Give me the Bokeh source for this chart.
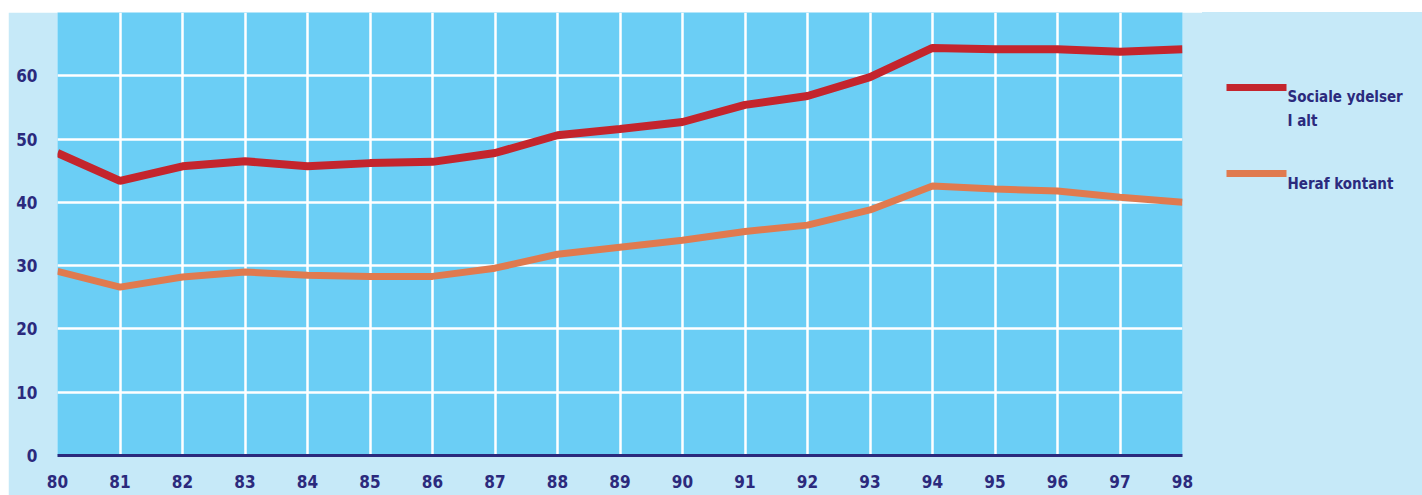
from bokeh.plotting import figure
from bokeh.models import Range1d, FixedTicker
from bokeh.layouts import row
from bokeh.core.properties import value
from bokeh.embed import file_html
from bokeh.resources import INLINE

# ---- data ----
years = [80, 81, 82, 83, 84, 85, 86, 87, 88, 89, 90, 91, 92, 93, 94, 95, 96, 97, 98]
sociale_i_alt = [47.8, 43.4, 45.7, 46.5, 45.7, 46.2, 46.4, 47.8, 50.6, 51.6, 52.7,
                 55.4, 56.8, 59.8, 64.4, 64.2, 64.2, 63.8, 64.2]
heraf_kontant = [29.1, 26.6, 28.2, 29.0, 28.5, 28.3, 28.3, 29.6, 31.8, 32.9, 34.0,
                 35.4, 36.4, 38.8, 42.6, 42.1, 41.8, 40.8, 40.0]
y_ticks = [0, 10, 20, 30, 40, 50, 60]
series_labels = [["Sociale ydelser", "I alt"], ["Heraf kontant"]]

# ---- styles ----
OUTER = "#c6e9f8"
PLOT_BG = "#6bcef5"
NAVY = "#2b2a7d"
RED = "#c4252d"
ORANGE = "#e07a4f"
FONT = "DejaVu Sans Condensed"

p = figure(width=1194, height=483, output_backend="svg", toolbar_location=None,
           x_range=Range1d(80, 98), y_range=Range1d(0, 70),
           min_border_left=49, min_border_right=20, min_border_top=0, min_border_bottom=40)
p.margin = (12, 0, 0, 8)
p.background_fill_color = PLOT_BG
p.border_fill_color = OUTER
p.outline_line_color = None

p.line(years, sociale_i_alt, line_color=RED, line_width=8)
p.line(years, heraf_kontant, line_color=ORANGE, line_width=7)

# axes
p.xaxis.ticker = FixedTicker(ticks=years)
p.xaxis.axis_line_color = NAVY
p.xaxis.axis_line_width = 3
p.xaxis.major_tick_line_color = None
p.xaxis.minor_tick_line_color = None
p.xaxis.major_label_standoff = 13
p.yaxis.ticker = FixedTicker(ticks=y_ticks)
p.yaxis.axis_line_color = None
p.yaxis.major_tick_line_color = None
p.yaxis.minor_tick_line_color = None
p.yaxis.major_label_standoff = 14
for ax in (p.xaxis, p.yaxis):
    ax.major_label_text_font = FONT
    ax.major_label_text_font_style = "bold"
    ax.major_label_text_font_size = "17px"
    ax.major_label_text_color = NAVY

# grids
p.xgrid.ticker = FixedTicker(ticks=years[1:-1])
p.ygrid.ticker = FixedTicker(ticks=y_ticks[1:])
for g in (p.xgrid, p.ygrid):
    g.grid_line_color = "white"
    g.grid_line_width = 2.5

# ---- legend panel ----
lg = figure(width=220, height=483, output_backend="svg", toolbar_location=None,
            x_range=Range1d(0, 220), y_range=Range1d(443, 0),
            min_border_left=0, min_border_right=0, min_border_top=0, min_border_bottom=40)
lg.margin = (12, 0, 0, 0)
lg.styles = {"background-color": OUTER}
lg.background_fill_alpha = 0
lg.border_fill_alpha = 0
lg.outline_line_color = None
lg.axis.visible = False
lg.grid.visible = False

sw_y = [75, 161]
colors = [RED, ORANGE]
widths = [7, 7]
text_y = [[84.5, 108.5], [171]]
for i in range(2):
    lg.line([24, 84], [sw_y[i], sw_y[i]], line_color=colors[i], line_width=widths[i])
    for j, t in enumerate(series_labels[i]):
        lg.text([85], [text_y[i][j]], text=[t], text_font=value(FONT),
                text_font_style="bold", text_font_size="15px", text_color=NAVY,
                text_baseline="alphabetic", text_align="left")

layout = row(p, lg, spacing=0)
open("out.html", "w").write(file_html(layout, INLINE))
